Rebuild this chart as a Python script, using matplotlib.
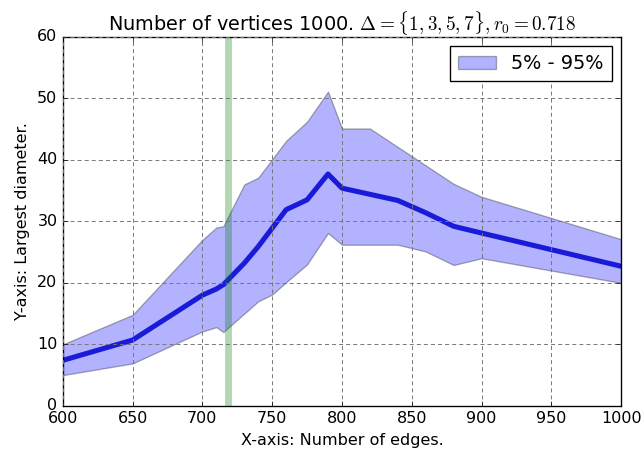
import matplotlib
matplotlib.use("Agg")
import matplotlib.pyplot as plt

# number of edges
edges = [600, 650, 700, 710, 715, 730, 740, 750, 760, 775, 790, 800,
         820, 840, 860, 880, 900, 1000]
# mean largest diameter
diam_mean = [7.4, 10.7, 18.0, 19.0, 19.7, 23.2, 25.9, 28.9, 31.9, 33.5, 37.7, 35.4,
             34.4, 33.4, 31.4, 29.2, 28.1, 22.7]
# 5% and 95% percentiles
diam_low = [5.0, 6.9, 12.1, 12.8, 12.0, 15.0, 17.0, 18.1, 20.1, 23.0, 28.1, 26.2,
            26.2, 26.2, 25.1, 22.9, 24.0, 20.0]
diam_high = [10.0, 14.8, 27.0, 29.0, 29.2, 36.0, 37.1, 40.1, 43.1, 46.2, 51.1, 45.1,
             45.1, 42.1, 39.1, 36.1, 34.0, 27.1]
r0 = 0.718
n_vertices = 1000

plt.style.use("classic")
plt.rcParams["mathtext.fontset"] = "cm"
plt.rcParams["figure.facecolor"] = "white"

DPI = 96
fig = plt.figure(figsize=(641 / DPI, 455 / DPI), dpi=DPI)
ax = fig.add_axes([0.098, 0.108, 0.871, 0.811])

ax.fill_between(edges, diam_low, diam_high, color="b", alpha=0.3,
                edgecolor="k", linewidth=1, label="5% - 95%")
ax.plot(edges, diam_mean, color=(0.1, 0.1, 0.85), linewidth=3.8)
ax.axvline(r0 * n_vertices, color="g", alpha=0.3, linewidth=5.2)

ax.set_xlim(600, 1000)
ax.set_ylim(0, 60)
ax.grid(True, color="0.45", linestyle=(0, (3, 2.3)), linewidth=0.7)
ax.set_xlabel("X-axis: Number of edges.")
ax.set_ylabel("Y-axis: Largest diameter.")
ax.set_title(r"Number of vertices 1000. $\Delta=\{1,3,5,7\},r_0=0.718$")
ax.legend(loc="upper right")

fig.savefig("out.png", dpi=DPI, facecolor="white")
